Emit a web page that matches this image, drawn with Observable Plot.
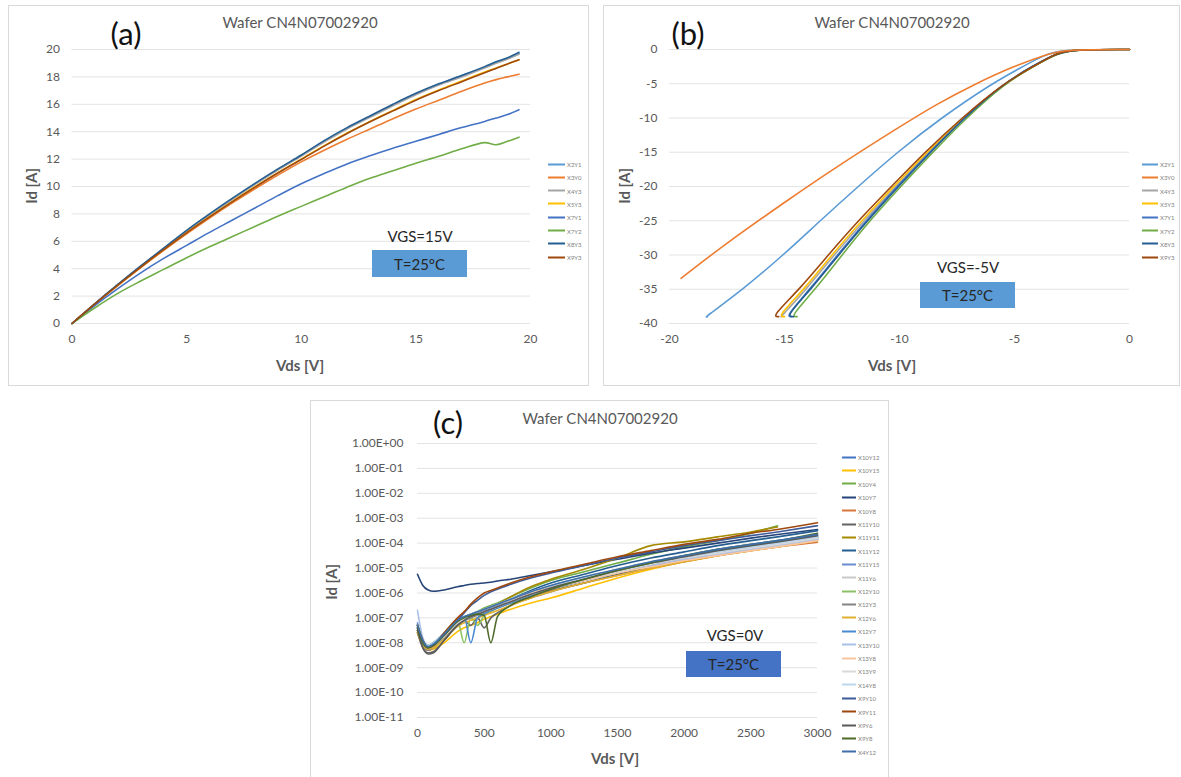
<!DOCTYPE html>
<html><head><meta charset="utf-8">
<script src="https://cdn.jsdelivr.net/npm/d3@7"></script>
<script src="https://cdn.jsdelivr.net/npm/@observablehq/plot@0.6"></script>
<style>
body{margin:0;background:#fff;font-family:Lato,"Open Sans",sans-serif;}
#root{position:relative;width:1181px;height:777px;overflow:hidden;}
.frame{position:absolute;border:1px solid #d9d9d9;box-sizing:border-box;}
.abs{position:absolute;white-space:nowrap;line-height:1;}
.title{font-size:15px;color:#595959;transform:translate(-50%,-50%);}
.tag{font-size:31px;color:#111;transform:translate(-50%,-50%);}
.axt{font-size:15px;font-weight:bold;color:#595959;transform:translate(-50%,-50%);}
.axy{font-size:15px;font-weight:bold;color:#595959;transform:translate(-50%,-50%) rotate(-90deg);}
.vgs{font-size:15px;color:#262626;transform:translate(-50%,-50%);}
.tbox{position:absolute;display:flex;align-items:center;justify-content:center;font-size:15px;color:#262626;}
.leg{position:absolute;font-size:6px;color:#7f7f7f;display:flex;align-items:center;white-space:nowrap;transform:translateY(-50%);}
.leg i{display:inline-block;height:2px;margin-right:2px;}
</style></head><body><div id="root"></div>
<script>
// ---------- Panel (a): VGS = 15 V ----------
const aVds = [0,1,2,3,4,5,6,7,8,9,10,11,12,13,14,15,16,17,18,18.5,19,19.5];
const aNames = ["X2Y1","X3Y0","X4Y3","X5Y3","X7Y1","X7Y2","X8Y3","X9Y3"];
const aColors = ["#5b9bd5","#ed7d31","#a5a5a5","#ffc000","#4472c4","#70ad47","#255e91","#9e480e"];
const aId = [
  [0,1.44,2.83,4.17,5.47,6.75,7.95,9.1,10.2,11.25,12.25,13.3,14.25,15.1,15.95,16.75,17.45,18.1,18.7,19.05,19.35,19.7],
  [0,1.42,2.77,4.08,5.34,6.55,7.7,8.8,9.85,10.85,11.8,12.65,13.45,14.2,14.95,15.65,16.3,16.95,17.55,17.8,18.0,18.2],
  [0,1.44,2.82,4.16,5.45,6.72,7.92,9.07,10.17,11.22,12.22,13.25,14.2,15.05,15.9,16.7,17.4,18.0,18.65,19.0,19.3,19.65],
  [0,1.43,2.8,4.12,5.4,6.63,7.8,8.92,10.0,11.03,12.0,12.98,13.9,14.75,15.55,16.35,17.05,17.7,18.35,18.65,18.95,19.25],
  [0,1.32,2.55,3.7,4.75,5.7,6.65,7.55,8.45,9.35,10.2,10.95,11.65,12.25,12.8,13.3,13.8,14.3,14.75,15.0,15.25,15.6],
  [0,1.15,2.2,3.1,3.95,4.8,5.6,6.35,7.1,7.85,8.55,9.25,9.95,10.6,11.15,11.7,12.2,12.75,13.2,13.05,13.3,13.6],
  [0,1.45,2.85,4.2,5.5,6.8,8.0,9.15,10.25,11.3,12.3,13.35,14.3,15.15,16.0,16.8,17.5,18.1,18.75,19.1,19.4,19.8],
  [0,1.43,2.8,4.12,5.4,6.62,7.78,8.9,9.97,11.0,11.97,12.95,13.87,14.72,15.52,16.3,17.0,17.65,18.3,18.62,18.95,19.25]
];
const aXTicks = [0,5,10,15,20];
const aYTicks = [0,2,4,6,8,10,12,14,16,18,20];

// ---------- Panel (b): VGS = -5 V  ([Vds, Id] points per device) ----------
const bNames = aNames;
const bColors = aColors;
const bCurves = [
  [[0,0],[-3.0,0],[-3.7,-0.8],[-4.7,-2.6],[-6.0,-5],[-8.2,-10],[-10.1,-15],[-11.8,-20],[-13.45,-25],[-15.05,-30],[-16.8,-35],[-18.5,-39.2],[-18.35,-39.0]],
  [[0,0],[-2.8,0],[-3.5,-0.6],[-5,-2.4],[-6.7,-5],[-8.4,-8],[-10,-11.3],[-12.5,-16.6],[-15,-22.3],[-17.5,-28.2],[-19.5,-33.4]],
  [[0,0],[-2.7,0],[-3.3,-0.8],[-4.2,-2.5],[-5.45,-5],[-7.2,-10],[-8.75,-15],[-10.15,-20],[-11.55,-25],[-12.85,-30],[-14.05,-35],[-15.15,-39]],
  [[0,0],[-2.7,0],[-3.3,-0.8],[-4.2,-2.5],[-5.45,-5],[-7.25,-10],[-8.8,-15],[-10.25,-20],[-11.65,-25],[-12.95,-30],[-14.15,-35],[-15.3,-39],[-15.0,-39]],
  [[0,0],[-2.7,0],[-3.3,-0.8],[-4.25,-2.5],[-5.5,-5],[-7.2,-10],[-8.7,-15],[-10.1,-20],[-11.45,-25],[-12.7,-30],[-13.9,-35],[-14.95,-39],[-14.7,-39]],
  [[0,0],[-2.6,0],[-3.25,-0.8],[-4.2,-2.5],[-5.45,-5],[-7.1,-10],[-8.55,-15],[-9.95,-20],[-11.3,-25],[-12.5,-30],[-13.65,-35],[-14.75,-39],[-14.45,-39]],
  [[0,0],[-2.65,0],[-3.3,-0.8],[-4.25,-2.5],[-5.5,-5],[-7.2,-10],[-8.65,-15],[-10.05,-20],[-11.4,-25],[-12.65,-30],[-13.85,-35],[-14.95,-39],[-14.6,-39]],
  [[0,0],[-2.7,0],[-3.3,-0.8],[-4.2,-2.5],[-5.5,-5],[-7.3,-10],[-8.9,-15],[-10.35,-20],[-11.8,-25],[-13.1,-30],[-14.35,-35],[-15.55,-39],[-15.25,-39]]
];
const bXTicks = [-20,-15,-10,-5,0];
const bYTicks = [0,-5,-10,-15,-20,-25,-30,-35,-40];

// ---------- Panel (c): VGS = 0 V, log10(Id) per device ----------
const cVds = [0,40,80,120,200,300,350,400,450,500,550,600,700,850,1000,1250,1500,1750,2000,2250,2500,2700,3000];
const cNames = ["X10Y12","X10Y15","X10Y4","X10Y7","X10Y8","X11Y10","X11Y11","X11Y12","X11Y15","X11Y6","X12Y10","X12Y3","X12Y6","X12Y7","X13Y10","X13Y8","X13Y9","X14Y8","X9Y10","X9Y11","X9Y6","X9Y8","X4Y12"];
const cColors = ["#4472c4","#ffc000","#70ad47","#264478","#d9763a","#636363","#a68a00","#255e91","#698ed0","#c9c9c9","#8cc168","#848484","#e0b030","#4a8ad0","#a9c0e8","#f8c6a0","#d9d9d9","#bdd7ee","#3f5b9a","#9e480e","#5a5a5a","#4e6b2a","#3e6ea8"];
const cLog10Id = [
  [-7.4,-8.0,-8.2,-8.15,-7.8,-7.3,-7.1,-6.95,-6.85,-6.75,-6.65,-6.55,-6.35,-6.05,-5.8,-5.45,-5.1,-4.8,-4.55,-4.3,-4.1,-3.95,-3.7],
  [-7.6,-8.1,-8.3,-8.25,-8.0,-7.55,-7.4,-7.3,-7.2,-7.05,-6.95,-6.85,-6.65,-6.4,-6.2,-5.8,-5.4,-5.05,-4.75,-4.5,-4.3,-4.15,-3.9],
  [-7.3,-7.9,-8.1,-8.0,-7.6,-7.1,-6.95,-6.85,-6.75,-6.6,-6.5,-6.4,-6.15,-5.8,-5.5,-5.15,-4.8,-4.45,-4.15,-3.9,-3.6,-3.3,null],
  [-5.25,-5.7,-5.88,-5.93,-5.88,-5.75,-5.7,-5.65,-5.62,-5.6,-5.57,-5.52,-5.45,-5.3,-5.15,-4.9,-4.65,-4.4,-4.2,-4.0,-3.8,-3.65,-3.45],
  [-7.5,-8.1,-8.3,-8.2,-7.8,-7.25,-7.05,-6.9,-6.8,-6.7,-6.6,-6.5,-6.35,-6.1,-5.9,-5.6,-5.3,-5.0,-4.75,-4.5,-4.3,-4.15,-3.96],
  [-7.6,-8.2,-8.4,-8.35,-7.9,-7.3,-7.1,-7.3,-7.0,-7.4,-7.0,-6.8,-6.5,-6.2,-5.95,-5.6,-5.25,-4.95,-4.65,-4.4,-4.2,-4.05,-3.8],
  [-7.5,-8.0,-8.2,-8.1,-7.7,-7.2,-7.05,-6.95,-6.85,-6.75,-6.6,-6.45,-6.15,-5.75,-5.45,-5.05,-4.6,-4.1,-3.95,-3.75,-3.55,-3.35,null],
  [-7.3,-7.9,-8.15,-8.1,-7.7,-7.15,-7.0,-6.9,-6.8,-6.7,-6.6,-6.5,-6.25,-5.9,-5.6,-5.25,-4.9,-4.6,-4.35,-4.1,-3.9,-3.75,-3.5],
  [-7.2,-7.95,-8.2,-8.1,-7.75,-7.2,-7.05,-6.95,-6.85,-6.75,-6.65,-6.55,-6.35,-6.05,-5.8,-5.45,-5.15,-4.85,-4.6,-4.4,-4.2,-4.05,-3.8],
  [-7.4,-8.0,-8.2,-8.1,-7.7,-7.2,-7.05,-6.95,-6.85,-6.75,-6.65,-6.55,-6.3,-6.0,-5.75,-5.4,-5.05,-4.75,-4.5,-4.3,-4.1,-3.95,-3.72],
  [-7.3,-7.9,-8.1,-8.0,-7.6,-7.1,-8.0,-7.0,-7.3,-6.9,-6.75,-6.6,-6.4,-6.1,-5.85,-5.5,-5.15,-4.85,-4.6,-4.35,-4.15,-4.0,-3.75],
  [-7.5,-8.1,-8.3,-8.2,-7.8,-7.25,-7.1,-7.0,-6.9,-6.8,-6.7,-6.6,-6.4,-6.1,-5.85,-5.5,-5.15,-4.85,-4.6,-4.35,-4.15,-4.0,-3.75],
  [-7.6,-8.1,-8.25,-8.2,-7.85,-7.35,-7.2,-7.1,-7.0,-6.9,-6.8,-6.7,-6.5,-6.2,-5.95,-5.6,-5.3,-5.0,-4.75,-4.5,-4.3,-4.15,-3.9],
  [-7.3,-7.9,-8.1,-8.0,-7.6,-7.1,-6.95,-8.0,-7.0,-6.85,-6.7,-6.6,-6.4,-6.1,-5.85,-5.5,-5.2,-4.9,-4.65,-4.45,-4.25,-4.1,-3.85],
  [-6.7,-7.8,-8.1,-8.05,-7.7,-7.2,-7.05,-6.95,-6.85,-6.75,-6.65,-6.55,-6.35,-6.05,-5.8,-5.5,-5.2,-4.9,-4.65,-4.45,-4.25,-4.1,-3.85],
  [-7.4,-8.0,-8.2,-8.1,-7.7,-7.15,-7.0,-6.85,-6.75,-6.65,-6.55,-6.45,-6.25,-6.0,-5.8,-5.5,-5.2,-4.95,-4.7,-4.5,-4.3,-4.15,-3.9],
  [-7.5,-8.0,-8.2,-8.1,-7.75,-7.2,-7.05,-6.95,-6.85,-6.75,-6.65,-6.55,-6.35,-6.05,-5.8,-5.45,-5.15,-4.85,-4.6,-4.4,-4.2,-4.05,-3.8],
  [-7.3,-7.9,-8.1,-8.0,-7.6,-7.1,-6.95,-6.85,-6.75,-6.65,-6.55,-6.45,-6.25,-5.95,-5.7,-5.4,-5.1,-4.8,-4.55,-4.35,-4.15,-4.0,-3.75],
  [-7.4,-8.0,-8.2,-8.1,-7.7,-7.1,-6.8,-6.5,-6.3,-6.1,-5.95,-5.85,-5.65,-5.4,-5.2,-4.9,-4.6,-4.35,-4.1,-3.9,-3.7,-3.55,-3.3],
  [-7.3,-7.9,-8.2,-8.1,-7.6,-7.0,-6.75,-6.45,-6.2,-6.0,-5.9,-5.8,-5.6,-5.35,-5.15,-4.85,-4.55,-4.3,-4.05,-3.85,-3.6,-3.45,-3.18],
  [-7.5,-8.2,-8.45,-8.4,-7.9,-7.3,-7.1,-6.95,-6.85,-6.75,-6.65,-6.55,-6.35,-6.05,-5.8,-5.45,-5.1,-4.8,-4.55,-4.3,-4.1,-3.95,-3.7],
  [-7.4,-8.0,-8.2,-8.1,-7.7,-7.15,-7.0,-6.9,-6.85,-6.9,-8.0,-6.95,-6.5,-6.15,-5.85,-5.45,-5.1,-4.8,-4.5,-4.25,-4.05,-3.9,-3.6],
  [-7.3,-7.9,-8.15,-8.05,-7.65,-7.1,-6.95,-6.85,-6.75,-6.65,-6.55,-6.45,-6.25,-5.95,-5.7,-5.35,-5.05,-4.75,-4.5,-4.25,-4.05,-3.9,-3.65]
];
const cXTicks = [0,500,1000,1500,2000,2500,3000];
const cYTicks = [1,1e-1,1e-2,1e-3,1e-4,1e-5,1e-6,1e-7,1e-8,1e-9,1e-10,1e-11];
const cYTickLabels = ["1.00E+00","1.00E-01","1.00E-02","1.00E-03","1.00E-04","1.00E-05","1.00E-06","1.00E-07","1.00E-08","1.00E-09","1.00E-10","1.00E-11"];

const panelTitle = "Wafer CN4N07002920";
const tempLabel = "T=25°C";

// ---------- build ----------
const root = document.getElementById("root");
function el(cls, text, x, y, extra) {
  const d = document.createElement("div");
  d.className = "abs " + cls; d.textContent = text;
  d.style.left = x + "px"; d.style.top = y + "px";
  if (extra) Object.assign(d.style, extra);
  root.append(d); return d;
}
function frame(x, y, w, h) {
  const d = document.createElement("div"); d.className = "frame";
  Object.assign(d.style, {left: x+"px", top: y+"px", width: w+"px", height: h+"px"});
  root.append(d);
}
function tbox(x, y, w, h, fill) {
  const d = document.createElement("div"); d.className = "tbox"; d.textContent = tempLabel;
  Object.assign(d.style, {left: x+"px", top: y+"px", width: w+"px", height: h+"px", background: fill});
  root.append(d);
}
function legend(names, colors, x, y0, dy, lw) {
  names.forEach((n, i) => {
    const d = document.createElement("div"); d.className = "leg";
    d.style.left = x + "px"; d.style.top = (y0 + i*dy) + "px";
    const sw = document.createElement("i"); sw.style.width = lw + "px"; sw.style.background = colors[i];
    d.append(sw, document.createTextNode(n)); root.append(d);
  });
}
function place(svg, x, y) {
  svg.style.position = "absolute"; svg.style.left = x + "px"; svg.style.top = y + "px";
  root.append(svg);
}
const baseStyle = {fontFamily: "Lato, 'Open Sans', sans-serif", fontSize: "12px", color: "#595959", background: "transparent", overflow: "visible"};
const plain = d => String(d);

frame(8, 5, 581, 381);
frame(603, 5, 577, 381);
frame(310, 400, 579, 380);

// Panel a plot
const aData = aNames.map((n, i) => aVds.map((v, j) => ({x: v, y: aId[i][j]})));
const plotA = Plot.plot({
  width: 581, height: 381, marginLeft: 63.5, marginRight: 59, marginTop: 44, marginBottom: 63,
  style: baseStyle,
  x: {domain: [0, 20], ticks: aXTicks, tickSize: 0, tickPadding: 11, label: null, tickFormat: plain},
  y: {domain: [0, 20], ticks: aYTicks, tickSize: 0, tickPadding: 12, label: null, tickFormat: plain},
  marks: [
    Plot.ruleY(aYTicks, {stroke: "#e3e3e3", strokeWidth: 1}),
    ...aData.map((d, i) => Plot.line(d, {x: "x", y: "y", stroke: aColors[i], strokeWidth: 1.6, curve: "catmull-rom"}))
  ]
});
place(plotA, 8, 5);

// Panel b plot
const bOrder = [0,2,3,4,5,6,7,1];
const plotB = Plot.plot({
  width: 577, height: 381, marginLeft: 66, marginRight: 51, marginTop: 44, marginBottom: 63,
  style: baseStyle,
  x: {domain: [-20, 0], ticks: bXTicks, tickSize: 0, tickPadding: 11, label: null, tickFormat: plain},
  y: {domain: [-40, 0], ticks: bYTicks, tickSize: 0, tickPadding: 12, label: null, tickFormat: plain},
  marks: [
    Plot.ruleY(bYTicks, {stroke: "#e3e3e3", strokeWidth: 1}),
    ...bOrder.map(i => Plot.line(bCurves[i], {x: d => d[0], y: d => d[1], stroke: bColors[i], strokeWidth: 1.6, curve: "basis"}))
  ]
});
place(plotB, 603, 5);

// Panel c plot
const cData = cNames.map((n, i) => cVds.map((v, j) => ({x: v, e: cLog10Id[i][j]})).filter(d => d.e !== null && d.e !== undefined).map(d => ({x: d.x, y: Math.pow(10, d.e)})));
const plotC = Plot.plot({
  width: 579, height: 377, marginLeft: 107, marginRight: 72, marginTop: 43, marginBottom: 60,
  style: baseStyle,
  x: {domain: [0, 3000], ticks: cXTicks, tickSize: 0, tickPadding: 11, label: null, tickFormat: plain},
  y: {type: "log", domain: [1e-11, 1], ticks: cYTicks, tickSize: 0, tickPadding: 14, label: null,
      tickFormat: d => cYTickLabels[Math.round(-Math.log10(d))]},
  marks: [
    Plot.ruleY(cYTicks, {stroke: "#e3e3e3", strokeWidth: 1}),
    ...cData.map((d, i) => Plot.line(d, {x: "x", y: "y", stroke: cColors[i], strokeWidth: 1.6, curve: "monotone-x"}))
  ]
});
place(plotC, 310, 400);

// Texts panel a
el("tag", "(a)", 126, 33);
el("title", panelTitle, 300, 22);
el("axy", "Id [A]", 31, 186);
el("axt", "Vds [V]", 300, 365);
el("vgs", "VGS=15V", 420, 236);
tbox(372, 250, 95, 27, "#5b9bd5");
legend(aNames, aColors, 548, 164, 13.3, 17);

// Texts panel b
el("tag", "(b)", 688, 33);
el("title", panelTitle, 892, 22);
el("axy", "Id [A]", 624, 186);
el("axt", "Vds [V]", 892, 365);
el("vgs", "VGS=-5V", 968, 267);
tbox(920, 282, 95, 26, "#5b9bd5");
legend(bNames, bColors, 1142, 164, 13.3, 16);

// Texts panel c
el("tag", "(c)", 448, 422);
el("title", panelTitle, 600, 418);
el("axy", "Id [A]", 331, 582);
el("axt", "Vds [V]", 615, 758);
el("vgs", "VGS=0V", 735, 635);
tbox(686, 651, 95, 26, "#4472c4");
legend(cNames, cColors, 842, 457, 13.4, 14);
</script></body></html>
